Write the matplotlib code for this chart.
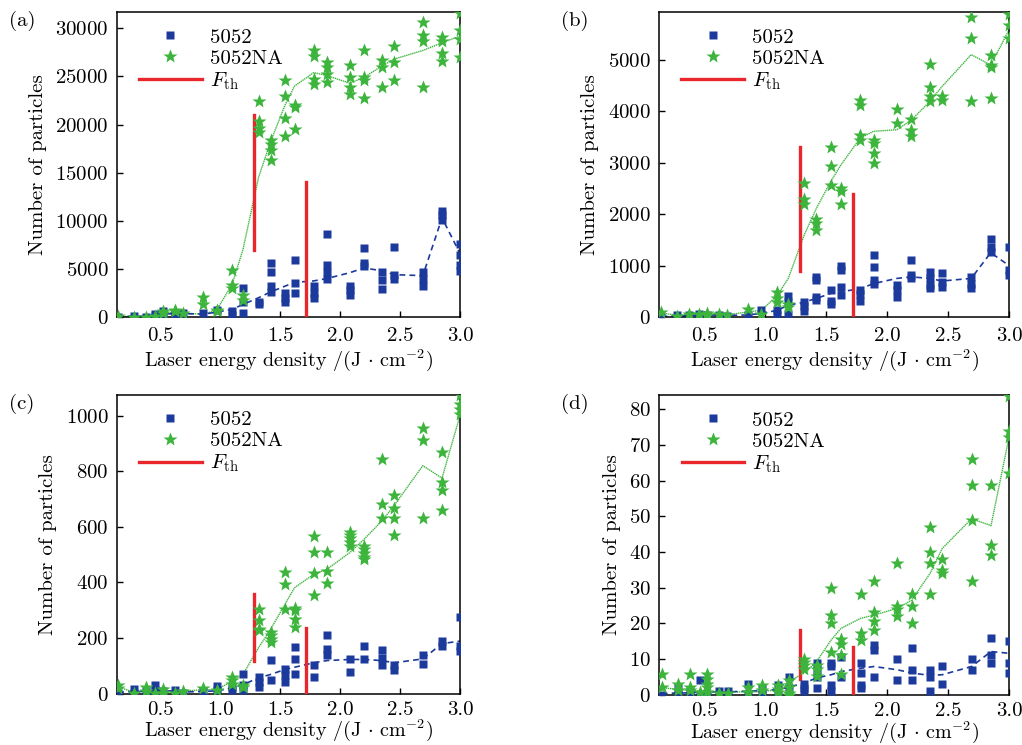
import matplotlib
matplotlib.use('Agg')
from matplotlib import pyplot as plt

plt.rcParams['font.family'] = ['cmr10', 'DejaVu Serif']
plt.rcParams['mathtext.fontset'] = 'cm'
plt.rcParams['axes.formatter.use_mathtext'] = True

# laser energy density values (J/cm2), shared by all panels
energy = [0.15, 0.28, 0.38, 0.46, 0.52, 0.62, 0.69, 0.86, 0.97, 1.10, 1.19, 1.32,
          1.42, 1.54, 1.62, 1.78, 1.89, 2.08, 2.20, 2.35, 2.45, 2.69, 2.85, 3.00]
fth_x = [1.285, 1.72]

# (a)
a_5052 = [[50], [100], [50], [300, 150], [250, 600], [400, 250], [400], [400], [700], [600, 250],
          [3000, 1600, 400], [1600, 1300], [5600, 4700, 3200, 2650], [2500, 2000, 1600],
          [5900, 3500, 2500], [3200, 2500, 2000], [8600, 5400, 4700, 4000], [3200, 2800, 2300],
          [7150, 5600, 5250], [4700, 3850, 2900], [7250, 4400, 3950], [4700, 4000, 3250],
          [11000, 10600, 10100], [7600, 6450, 5400, 4800]]
a_na = [[100], [50], [50], [100], [400, 600], [600, 750], [400], [2100, 1400], [750, 600],
        [4900, 3350, 3000], [2300, 1800], [22400, 20400, 19600, 19200], [18400, 17950, 17400, 16300],
        [24600, 23000, 20700, 18800], [22000, 21800, 19500], [27750, 27150, 24750, 24250],
        [26500, 25950, 25250, 24400], [26200, 24900, 23950, 23200], [27800, 24900, 24600, 22800],
        [26750, 25950, 23950], [28150, 26550, 24600], [30700, 29300, 28700, 23950],
        [29050, 28700, 27400, 26650], [31550, 29800, 28900, 27000]]
a_5052_line = [50, 80, 80, 200, 300, 350, 350, 300, 500, 800, 1300, 2000, 2600, 3200, 3600, 3750,
               4000, 4600, 5100, 4800, 4400, 4300, 10300, 6600]
a_na_line = [100, 50, 50, 100, 300, 500, 400, 300, 700, 3400, 7000, 14500, 18200, 22000, 24000,
             25400, 25100, 24300, 24900, 26100, 26800, 27700, 28500, 29200]
a_fth = [(7000, 21000), (0, 14000)]

# (b)
b_5052 = [[0], [30], [30], [65], [30], [30], [10], [30], [140], [130, 30], [400, 290, 65],
          [290, 210, 120], [780, 710, 390, 340], [520, 320, 260], [1000, 910, 580, 420],
          [520, 450, 320], [1200, 970, 710, 650], [620, 520, 390], [1100, 810, 750],
          [880, 750, 620, 570], [860, 680, 580], [780, 650, 570], [1510, 1360, 1270], [1360, 910, 810]]
b_na = [[100], [15], [50], [65], [80, 30], [50], [30], [160], [65], [490, 360, 290], [260, 200],
        [2610, 2300, 2200], [1910, 1820, 1690], [3310, 2930, 2560], [2500, 2450, 2190],
        [4220, 4120, 3540, 3440], [3450, 3380, 3180, 2990], [4040, 3770], [3850, 3640, 3520],
        [4920, 4470, 4290, 4190], [4290, 4220], [5830, 5420, 4200], [5100, 4900, 4870, 4250],
        [5900, 5680, 5420]]
b_5052_line = [10, 20, 25, 40, 40, 35, 30, 40, 70, 130, 230, 290, 360, 460, 490, 550, 650, 750,
               780, 750, 700, 750, 1250, 1000]
b_na_line = [80, 30, 50, 60, 60, 50, 40, 100, 130, 420, 750, 1590, 2110, 2640, 2950, 3480, 3610,
             3640, 3830, 4190, 4480, 5100, 4900, 5580]
b_fth = [(900, 3300), (0, 2400)]

# (c)
c_5052 = [[4], [18, 4], [8], [30, 12], [8], [12], [4], [8], [28, 12], [24, 12], [72, 30, 12],
          [60, 42, 24], [120, 48], [90, 66, 42], [168, 126, 72], [102, 60], [210, 162, 138],
          [126, 78], [172, 126], [156, 129, 102], [102, 84], [138, 108], [189, 172], [276, 172, 153]]
c_na = [[32, 20], [4], [24, 8], [4], [18, 4], [4], [8], [20], [12], [60, 48, 36], [30, 24],
        [304, 264, 234, 228], [222, 210, 198, 184], [436, 393, 304], [309, 300, 270, 240],
        [568, 511, 433, 355], [511, 441, 397], [583, 571, 559, 547, 532], [532, 520, 505, 493, 484],
        [845, 681, 631], [715, 667, 633, 571], [955, 911, 633], [868, 760, 733, 661],
        [1075, 1040, 1022, 1004]]
c_5052_line = [5, 8, 8, 12, 10, 10, 6, 8, 10, 20, 32, 57, 69, 87, 95, 111, 119, 123, 123, 119,
               111, 125, 180, 189]
c_na_line = [25, 5, 12, 6, 10, 5, 8, 15, 14, 45, 69, 165, 231, 321, 381, 429, 447, 507, 555, 622,
             676, 820, 775, 1000]
c_fth = [(117, 358), (0, 237)]

# (d)
d_5052 = [[0], [2, 0], [1, 0], [4, 0], [0], [1], [1], [3, 0], [2, 0], [2.6, 0], [5, 2], [3, 2, 1],
          [9, 7, 5, 2], [9, 8, 2.6, 1], [10.5, 5], [9, 6, 2.6, 2], [14, 12.4, 5], [10, 4], [13, 7, 4],
          [7, 5, 1], [8, 3], [10, 7], [16, 11, 9], [15, 9, 6]]
d_na = [[5.9, 2.1], [3.1, 1.2], [5.9, 2.1, 1.2], [0.7], [5.9, 4.5, 3.1, 2.1, 0.7], [0.5], [0.5],
        [2.1, 0.7], [2.6, 1.2], [2.6, 1.7, 0.7], [4.0, 2.1, 0.5, 0], [9.9, 9.1, 8.2, 7.3],
        [8.2, 7.3, 5.2], [30, 22.3, 20.1, 12.1], [15.6, 14.2, 11, 5.9], [28.2, 17.2, 15.2],
        [31.9, 23.1, 20.7, 18], [36.8, 24.9, 24, 22], [28.2, 24.9, 20], [47.1, 40.1, 36.8, 28.2],
        [38, 35, 34], [66, 58.9, 48.9, 31.9], [58.9, 41.9, 39.1], [83.7, 74, 72.1, 62]]
d_5052_line = [0.3, 0.5, 0.5, 0.8, 0.8, 0.8, 0.8, 1.0, 1.2, 1.4, 2.1, 3.3, 4.7, 5.6, 6.5, 7.4,
               7.9, 7.0, 6.1, 5.4, 5.6, 7.9, 12.1, 11.6]
d_na_line = [2.0, 1.5, 1.2, 1.0, 1.0, 0.8, 0.8, 0.8, 0.8, 1.5, 3.7, 6.1, 9.3, 15.4, 18.6, 21.4,
             22.3, 24.2, 26.5, 34, 41, 49.3, 47.4, 72.6]
d_fth = [(4.5, 18), (0, 13.5)]

panels = [
    ('(a)', a_5052, a_na, a_5052_line, a_na_line, a_fth, 31700, 5000, 0.14),
    ('(b)', b_5052, b_na, b_5052_line, b_na_line, b_fth, 5930, 1000, 0.13),
    ('(c)', c_5052, c_na, c_5052_line, c_na_line, c_fth, 1075, 200, 0.14),
    ('(d)', d_5052, d_na, d_5052_line, d_na_line, d_fth, 84, 10, 0.13),
]
boxes = [[0.1145, 0.5745, 0.3356, 0.4094], [0.6448, 0.5745, 0.3425, 0.4094],
         [0.1145, 0.0689, 0.3356, 0.4013], [0.6451, 0.0675, 0.3425, 0.4023]]

blue = '#1c3a9c'
green = '#3db53d'
red = '#e8262b'

fig = plt.figure(figsize=(10.22, 7.45), dpi=100)

for i, ((tag, sq, st, sq_line, st_line, fth, ymax, ystep, xmin), box) in enumerate(zip(panels, boxes)):
    ax = fig.add_axes(box)
    ax.plot(energy, st_line, color=green, lw=1.0, ls=(0, (1, 0.5)), zorder=2)
    ax.plot(energy, sq_line, color=blue, lw=1.2, ls=(0, (3.5, 2.5)), zorder=2)
    for xv, (y0, y1) in zip(fth_x, fth):
        ax.plot([xv, xv], [y0, y1], color=red, lw=2.4, zorder=3)
    for xv, vals in zip(energy, sq):
        ax.plot([xv] * len(vals), vals, 's', color=blue, ms=5.5, mec='none', zorder=4)
    for xv, vals in zip(energy, st):
        ax.plot([xv] * len(vals), vals, '*', color=green, ms=10, mec='none', zorder=5)

    # legend handles
    h1, = ax.plot([], [], 's', color=blue, ms=5.5, mec='none')
    h2, = ax.plot([], [], '*', color=green, ms=10, mec='none')
    h3, = ax.plot([], [], color=red, lw=2.4)
    ax.legend([h1, h2, h3], ['5052', '5052NA', r'$F_{\rm th}$'], loc='upper left',
              bbox_to_anchor=(0.022, 0.995), frameon=False, fontsize=15, numpoints=1,
              handlelength=3.0, handletextpad=0.4, labelspacing=0.12, borderpad=0.2)

    ax.set_xlim(xmin, 3.0)
    ax.set_ylim(0, ymax)
    ax.set_xticks([0.5, 1.0, 1.5, 2.0, 2.5, 3.0])
    ax.set_xticklabels(['0.5', '1.0', '1.5', '2.0', '2.5', '3.0'])
    ax.set_yticks([ystep * k for k in range(int(ymax // ystep) + 1)])
    ax.tick_params(direction='in', length=4, width=1, labelsize=15, top=False, right=False)
    ax.tick_params(axis='x', pad=7 if i < 2 else 5)
    ax.tick_params(axis='y', pad=6)
    for sp in ax.spines.values():
        sp.set_linewidth(1.1)
    ax.set_xlabel(r'Laser energy density /(J$\,\cdot\,$cm$^{-2}$)', fontsize=14.5,
                  labelpad=2 if i < 2 else -0.5)
    ax.set_ylabel('Number of particles', fontsize=15, labelpad=6)
    ax.text(-0.277 if i % 2 == 0 else -0.24, 0.97, tag, transform=ax.transAxes,
            fontsize=15, ha='center', va='center')

fig.savefig('out.png', dpi=100)
